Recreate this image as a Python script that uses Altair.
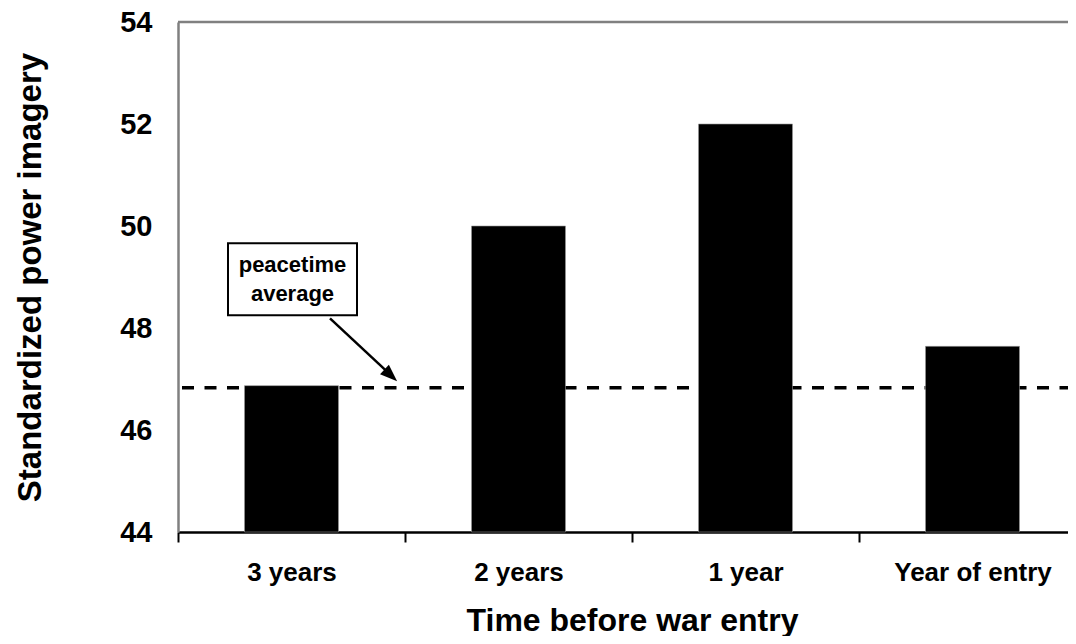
import altair as alt
import pandas as pd

categories = ["3 years", "2 years", "1 year", "Year of entry"]
values = [46.87, 50.0, 52.0, 47.64]
peacetime_average = 46.83
y_ticks = [44, 46, 48, 50, 52, 54]
note_lines = ["peacetime", "average"]

FONT = "Liberation Sans"

df = pd.DataFrame({"period": categories, "power": values})
one = pd.DataFrame({"k": [0]})

x_scale = alt.Scale(domain=categories, range=[0, 908], paddingInner=0, paddingOuter=0)
y_scale = alt.Scale(domain=[44, 54], nice=False, zero=False)

bars = alt.Chart(df).mark_bar(color="black", stroke="#999999", strokeWidth=0.6, size=94).encode(
    x=alt.X("period:N", sort=categories, scale=x_scale,
            axis=alt.Axis(title="Time before war entry", labelFont=FONT, labelFontSize=26,
                          labelFontWeight="bold", labelColor="black", labelAngle=0,
                          labelPadding=17, tickSize=10, tickWidth=2, tickColor="black",
                          tickBand="extent", domainColor="black", domainWidth=2.5,
                          titleFont=FONT, titleFontSize=32, titleFontWeight="bold",
                          titleColor="black", titlePadding=20, grid=False)),
    y=alt.Y("power:Q", scale=y_scale,
            axis=alt.Axis(title="Standardized power imagery", values=y_ticks, labelFont=FONT,
                          labelFontSize=29, labelFontWeight="bold", labelColor="black",
                          ticks=False, tickSize=0, labelPadding=26, domainColor="#808080",
                          domainWidth=2.5, titleFont=FONT, titleFontSize=33,
                          titleFontWeight="bold", titleColor="black", titlePadding=72,
                          grid=False)),
    y2=alt.datum(44),
)

dashed = alt.Chart(one).mark_rule(color="black", strokeWidth=3.5, strokeDash=[12, 10.5]).encode(
    x=alt.value(4), x2=alt.value(908), y=alt.datum(peacetime_average)
)

top_border = alt.Chart(one).mark_rule(color="#808080", strokeWidth=2.5).encode(
    x=alt.value(0), x2=alt.value(908), y=alt.datum(54)
)

box = alt.Chart(one).mark_rect(fill="white", stroke="black", strokeWidth=2).encode(
    x=alt.value(50), x2=alt.value(179), y=alt.datum(49.66), y2=alt.datum(48.25)
)

note = alt.Chart(one).mark_text(font=FONT, fontSize=22, fontWeight="bold", color="black",
                                lineHeight=29, align="center", baseline="middle").encode(
    x=alt.value(114.5), y=alt.datum(49.24), text=alt.value(note_lines)
)

arrow = alt.Chart(one).mark_rule(color="black", strokeWidth=2.5).encode(
    x=alt.value(152), x2=alt.value(211), y=alt.datum(48.19), y2=alt.datum(47.11)
)

head = alt.Chart(one).mark_point(shape="M0,-1L0.75,1L-0.75,1Z", filled=True, color="black",
                                 size=300, angle=132.8, opacity=1).encode(
    x=alt.value(212.8), y=alt.datum(47.07)
)

chart = alt.layer(dashed, bars, top_border, box, note, arrow, head).properties(
    width=890, height=510,
    autosize=alt.AutoSizeParams(type="none"),
    padding={"left": 170, "top": 14, "right": 0, "bottom": 104},
).configure_view(stroke=None).configure(background="white")

chart.save("out.html", embed_options={"renderer": "svg", "actions": False})
